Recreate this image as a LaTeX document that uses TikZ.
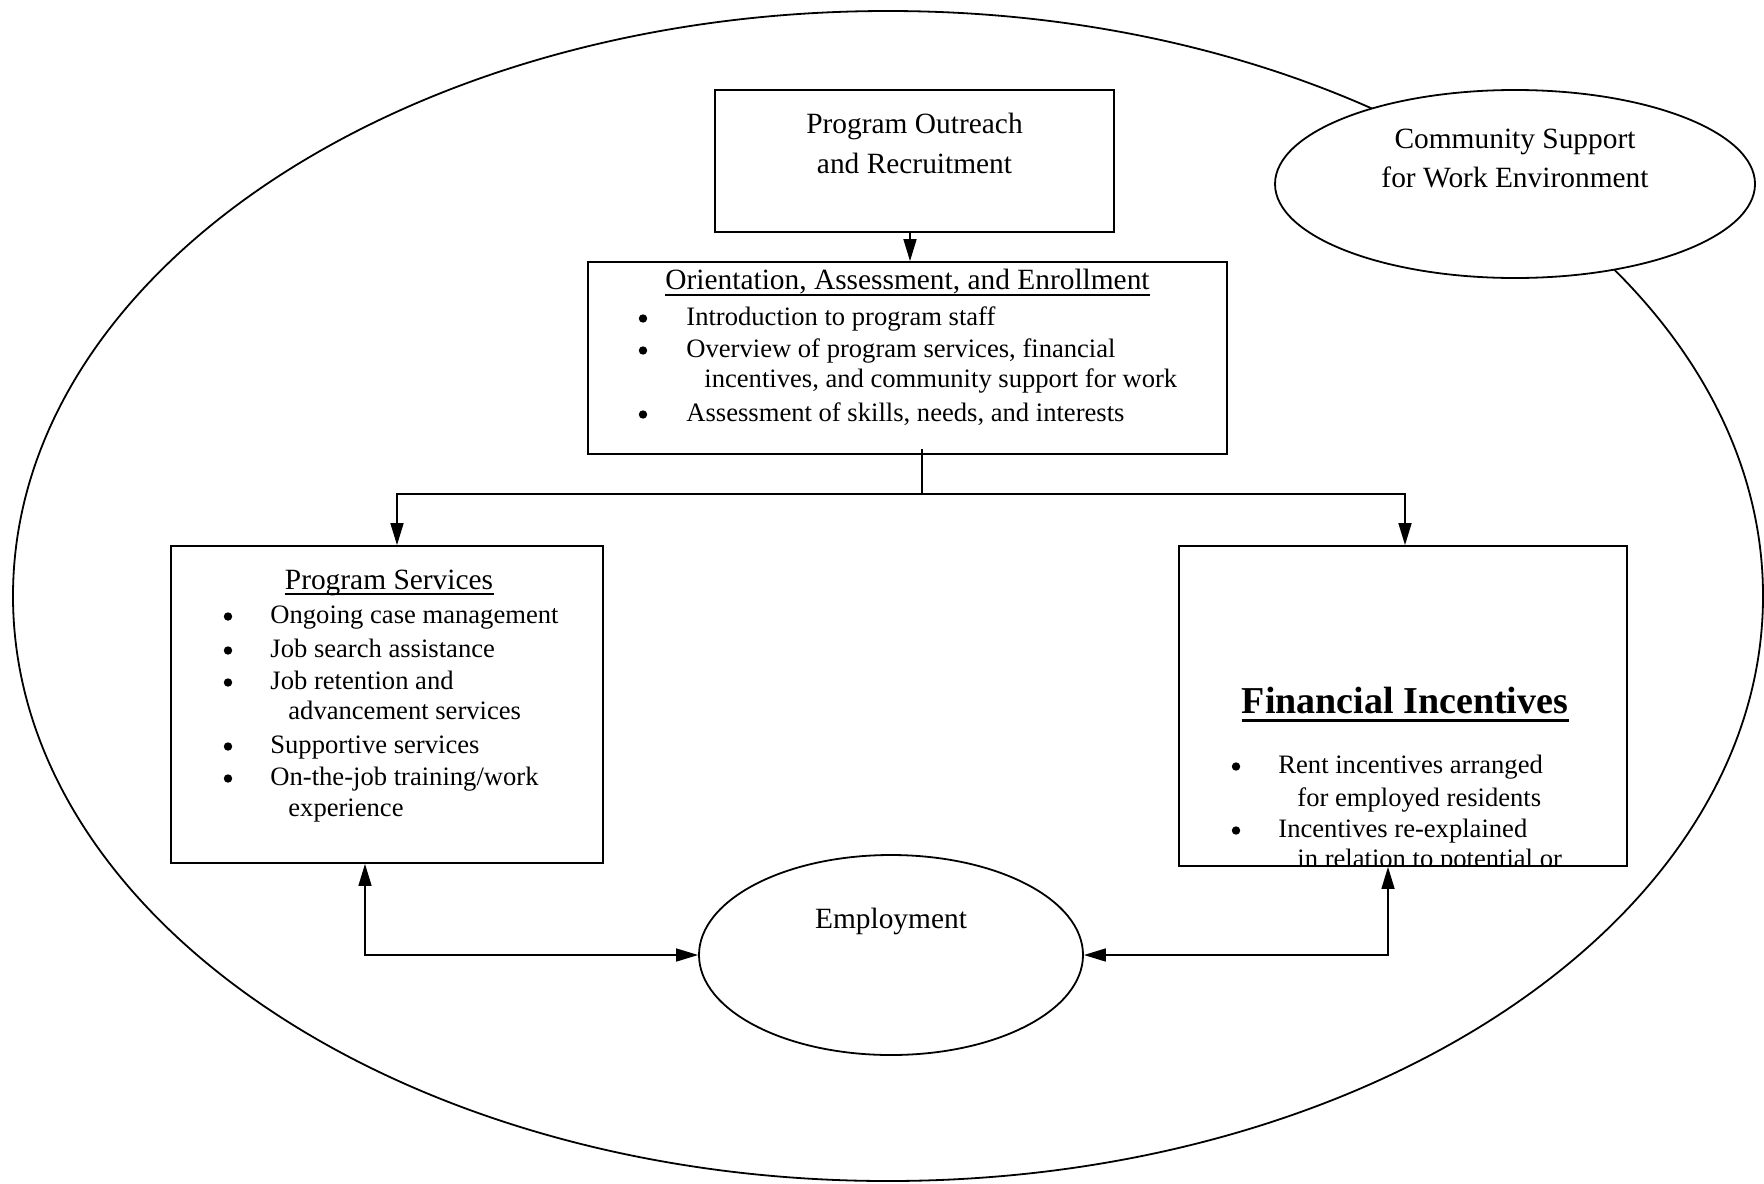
\documentclass[tikz,border=0pt]{standalone}
\usepackage{fontspec}
\setmainfont{Liberation Serif}
\usetikzlibrary{shapes.geometric,arrows.meta,fit}
\begin{document}
\begin{tikzpicture}[x=0.5pt,y=-0.5pt,
  boxst/.style={draw, line width=0.9pt, inner sep=0pt},
  ellst/.style={draw, ellipse, line width=0.9pt, inner sep=0pt},
  headst/.style={inner sep=0pt, anchor=base, font=\fontsize{14.7}{18}\selectfont},
  itemst/.style={inner sep=0pt, anchor=base west, font=\fontsize{13.3}{16}\selectfont},
  dotst/.style={circle, fill=black, inner sep=0pt, minimum size=4.2pt},
  arr/.style={-{Triangle[length=11pt,width=6.5pt]}, line width=0.8pt},
  darr/.style={{Triangle[length=11pt,width=6.5pt]}-{Triangle[length=11pt,width=6.5pt]}, line width=0.8pt},
  uline/.style={line width=0.75pt}]
\useasboundingbox (0,0) rectangle (1764,1183);

% outer ellipse
\node[ellst, minimum width=875pt, minimum height=585pt] (outer) at (888,596) {};
% community ellipse
\node[ellst, fill=white, minimum width=240pt, minimum height=94pt] (comm) at (1515,184) {};
\node[headst] (c1) at (1515,148) {Community Support};
\node[headst] (c2) at (1515,187) {for Work Environment};

% boxes
\coordinate (o1) at (715,90);  \coordinate (o2) at (1114,232);
\node[boxst, fit=(o1)(o2)] (outreach) {};
\coordinate (r1) at (588,262); \coordinate (r2) at (1227,454);
\node[boxst, fit=(r1)(r2)] (orient) {};
\coordinate (p1) at (171,546); \coordinate (p2) at (603,863);
\node[boxst, fit=(p1)(p2)] (ps) {};
\coordinate (f1) at (1179,546); \coordinate (f2) at (1627,866);
\node[boxst, fit=(f1)(f2)] (fi) {};
% employment
\node[ellst, minimum width=192pt, minimum height=100pt] (empl) at (891,955) {};
\node[headst] (e1) at (891,928) {Employment};

% outreach text
\node[headst] (a1) at (914.5,133) {Program Outreach};
\node[headst] (a2) at (914.5,173) {and Recruitment};

% orientation text
\node[headst] (oh) at (907.5,289) {Orientation, Assessment, and Enrollment};
\draw[uline] ([yshift=-3pt]oh.base west) -- ([yshift=-3pt]oh.base east);
\node[dotst] (ob1) at (643,318.5) {};
\node[itemst] (ot1) at (686,325) {Introduction to program staff};
\node[dotst] (ob2) at (643,350.5) {};
\node[itemst] (ot2) at (686,357) {Overview of program services, financial};
\node[itemst] (ot3) at (704,387) {incentives, and community support for work};
\node[dotst] (ob3) at (643,414.5) {};
\node[itemst] (ot4) at (686,421) {Assessment of skills, needs, and interests};

% program services text
\node[headst] (ph) at (389,589) {Program Services};
\draw[uline] ([yshift=-2.5pt]ph.base west) -- ([yshift=-2.5pt]ph.base east);
\node[dotst] (pb1) at (228,616.5) {};
\node[itemst] (pt1) at (270,623) {Ongoing case management};
\node[dotst] (pb2) at (228,650.5) {};
\node[itemst] (pt2) at (270,657) {Job search assistance};
\node[dotst] (pb3) at (228,682.5) {};
\node[itemst] (pt3) at (270,689) {Job retention and};
\node[itemst] (pt4) at (288,719) {advancement services};
\node[dotst] (pb4) at (228,746.5) {};
\node[itemst] (pt5) at (270,753) {Supportive services};
\node[dotst] (pb5) at (228,778.5) {};
\node[itemst] (pt6) at (270,785) {On-the-job training/work};
\node[itemst] (pt7) at (288,816) {experience};

% financial incentives text
\node[headst, font=\fontsize{19}{22}\selectfont\bfseries] (fh) at (1405,713) {Financial Incentives};
\draw[line width=1.5pt] ([yshift=-3.5pt]fh.base west) -- ([yshift=-3.5pt]fh.base east);
\node[dotst] (fb1) at (1236,766.5) {};
\node[itemst] (ft1) at (1278,773) {Rent incentives arranged};
\node[itemst] (ft2) at (1297,806) {for employed residents};
\node[dotst] (fb2) at (1236,830.5) {};
\node[itemst] (ft3) at (1278,837) {Incentives re-explained};
\begin{scope}
  \clip (fi.south west) rectangle (fi.north east);
  \node[itemst] (ft4) at (1297,867) {in relation to potential or};
\end{scope}

% connectors
\draw[arr] ([xshift=-2.25pt]outreach.south) -- ([xshift=-2.25pt]outreach.south |- orient.north);
\coordinate (br) at (922,494);
\draw[line width=0.8pt] ([yshift=3pt]orient.south -| br) -- (br);
\draw[arr] (br) -| ([xshift=5pt]ps.north);
\draw[arr] (br) -| ([xshift=1pt]fi.north);
\draw[darr] ([xshift=-11pt]ps.south) |- (empl.west);
\draw[darr] ([xshift=-7.5pt]fi.south) |- (empl.east);
\end{tikzpicture}
\end{document}
